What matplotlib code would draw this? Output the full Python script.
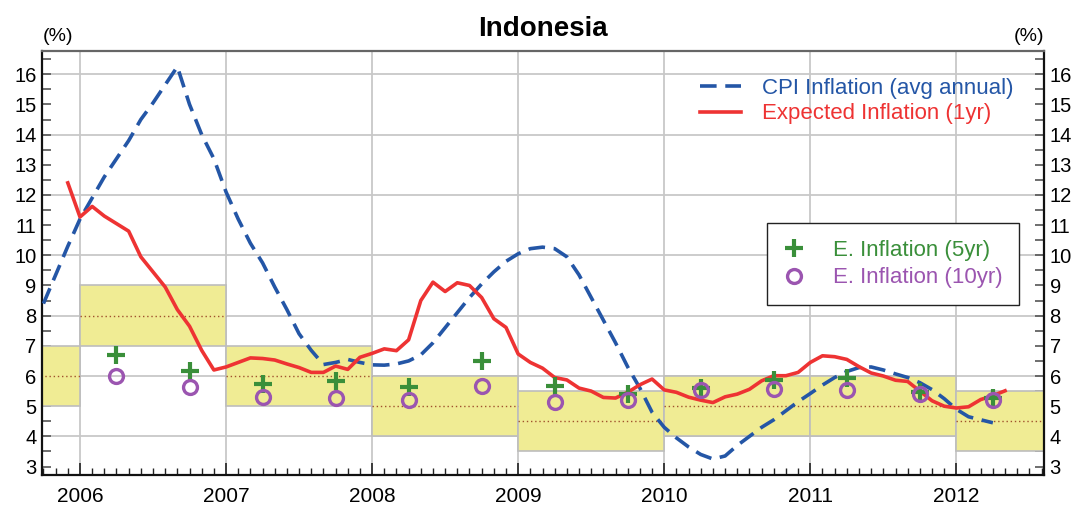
import matplotlib
matplotlib.use('Agg')
import matplotlib.pyplot as plt
import numpy as np
from matplotlib.ticker import FixedLocator, MultipleLocator

# CPI inflation (avg annual), monthly from Oct 2005
cpi_start = 2005.75
cpi_vals = [8.4, 9.35, 10.3,
            11.2, 11.9, 12.6, 13.2, 13.8, 14.5, 15.05, 15.65, 16.25, 15.0, 14.0, 13.2,
            12.1, 11.2, 10.4, 9.75, 8.95, 8.2, 7.4, 6.85, 6.38, 6.45, 6.55, 6.45,
            6.37, 6.36, 6.40, 6.5, 6.7, 7.1, 7.6, 8.1, 8.6, 9.05, 9.45, 9.8,
            10.05, 10.22, 10.27, 10.22, 9.95, 9.35, 8.6, 7.85, 7.1, 6.3, 5.6, 4.8,
            4.3, 3.95, 3.65, 3.4, 3.25, 3.35, 3.7, 4.0, 4.3, 4.55, 4.85, 5.15,
            5.42, 5.7, 5.95, 6.15, 6.28, 6.3, 6.2, 6.07, 5.95, 5.78, 5.55, 5.25,
            4.9, 4.65, 4.55, 4.45]

# Expected inflation (1yr), monthly from Dec 2005
exp_start = 2005 + 11 / 12
exp_vals = [12.4,
            11.27, 11.62, 11.3, 11.05, 10.8, 9.95, 9.45, 8.95, 8.2, 7.65, 6.85, 6.2,
            6.3, 6.45, 6.6, 6.58, 6.53, 6.4, 6.28, 6.12, 6.12, 6.33, 6.22, 6.62,
            6.75, 6.9, 6.84, 7.2, 8.5, 9.11, 8.8, 9.09, 9.0, 8.6, 7.9, 7.61,
            6.73, 6.45, 6.26, 5.95, 5.87, 5.6, 5.5, 5.29, 5.27, 5.46, 5.71, 5.9,
            5.54, 5.46, 5.3, 5.2, 5.12, 5.31, 5.4, 5.56, 5.84, 6.01, 6.01, 6.12,
            6.45, 6.67, 6.64, 6.55, 6.31, 6.1, 6.0, 5.86, 5.82, 5.5, 5.18, 5.0,
            4.94, 4.98, 5.22, 5.35, 5.51]

# semiannual survey points
survey_x = [2006.25, 2006.75, 2007.25, 2007.75, 2008.25, 2008.75, 2009.25,
            2009.75, 2010.25, 2010.75, 2011.25, 2011.75, 2012.25]
exp_5yr = [6.7, 6.18, 5.74, 5.83, 5.63, 6.49, 5.66, 5.41, 5.6, 5.88, 5.93, 5.47, 5.27]
exp_10yr = [6.0, 5.65, 5.3, 5.27, 5.22, 5.68, 5.15, 5.21, 5.55, 5.57, 5.55, 5.39, 5.19]

# inflation target bands (mid +/- 1)
target_years = [2005, 2006, 2007, 2008, 2009, 2010, 2011, 2012]
target_mid = [6, 8, 6, 5, 4.5, 5, 5, 4.5]

blue = '#2456A6'
red = '#EE3333'
green = '#3A8F3A'
purple = '#9B55B0'

plt.rcParams['font.family'] = ['Liberation Sans', 'DejaVu Sans']

fig = plt.figure(figsize=(10.79, 5.09), dpi=100)
ax = fig.add_axes([42 / 1079, 1 - 475 / 509, 1002 / 1079, 424 / 509])

# target bands
tm = np.array(target_mid)
ax.bar(target_years, 2.0, bottom=tm - 1, width=1.0, align='edge',
       color='#F0EC94', edgecolor='#BDBDBD', linewidth=1.2, zorder=1)
ax.hlines(tm, target_years, np.array(target_years) + 1, colors='#A0522D',
          linestyles=(0, (1, 2)), linewidth=1.0, zorder=1.5)

cpi_x = cpi_start + np.arange(len(cpi_vals)) / 12
exp_x = exp_start + np.arange(len(exp_vals)) / 12

l1, = ax.plot(cpi_x, cpi_vals, color=blue, lw=2.6, ls=(0, (4.6, 2.4)),
              label='CPI Inflation (avg annual)', zorder=3)
l2, = ax.plot(exp_x, exp_vals, color=red, lw=2.6,
              label='Expected Inflation (1yr)', zorder=3)
m1, = ax.plot(survey_x, exp_5yr, ls='none', marker='+', ms=13, mew=3.0,
              color=green, label='E. Inflation (5yr)', zorder=4)
m2, = ax.plot(survey_x, exp_10yr, ls='none', marker='o', ms=10, mew=2.4,
              mfc='none', mec=purple, label='E. Inflation (10yr)', zorder=4)

ax.set_xlim(2005.74, 2012.6)
ax.set_ylim(2.72, 16.77)

ax.set_axisbelow(True)
ax.xaxis.set_major_locator(FixedLocator(range(2006, 2013)))
ax.xaxis.set_minor_locator(MultipleLocator(1 / 12))
ax.yaxis.set_major_locator(MultipleLocator(1))
ax.yaxis.set_minor_locator(MultipleLocator(0.5))
ax.grid(False)
for y in range(4, 17, 2):
    ax.axhline(y, color='#C8C8C8', lw=1.3, zorder=0.5)
for x in range(2006, 2013):
    ax.axvline(x, color='#C8C8C8', lw=1.3, zorder=0.5)

ax.tick_params(axis='x', which='major', direction='in', length=9, width=1.2,
               color='#222222', labelsize=15, pad=9, top=False)
ax.tick_params(axis='x', which='minor', direction='in', length=5, width=1.0,
               color='#222222', top=False)
ax.tick_params(axis='y', which='both', direction='in', length=6.5, width=1.2,
               color='#555555', labelsize=14.5, pad=4, left=True, right=True,
               labelleft=True, labelright=True)

for side in ['left', 'right', 'bottom']:
    ax.spines[side].set_linewidth(1.6)
    ax.spines[side].set_color('#111111')
ax.spines['top'].set_linewidth(1.6)
ax.spines['top'].set_color('#666666')

ax.set_title('Indonesia', fontsize=20, fontweight='bold', pad=11)
ax.text(0.016, 1.015, '(%)', transform=ax.transAxes, fontsize=14,
        ha='center', va='bottom')
ax.text(0.985, 1.015, '(%)', transform=ax.transAxes, fontsize=14,
        ha='center', va='bottom')

leg1 = ax.legend(handles=[l1, l2], loc='upper left',
                 bbox_to_anchor=((700 - 42) / 1002, (475 - 78) / 424),
                 frameon=False, fontsize=16, borderpad=0, borderaxespad=0,
                 handlelength=1.85, handletextpad=0.95, labelspacing=0.2)
for t, c in zip(leg1.get_texts(), [blue, red]):
    t.set_color(c)
ax.add_artist(leg1)

leg2 = ax.legend(handles=[m1, m2], loc='upper left',
                 bbox_to_anchor=((767 - 42) / 1002, (475 - 223) / 424),
                 frameon=True, fancybox=False, fontsize=16, borderpad=0.75,
                 borderaxespad=0, handlelength=0.9, handletextpad=1.3,
                 labelspacing=0.3)
leg2.get_frame().set_edgecolor('#222222')
leg2.get_frame().set_linewidth(1.0)
leg2.get_frame().set_alpha(None)
leg2.get_frame().set_facecolor('white')
for t, c in zip(leg2.get_texts(), [green, purple]):
    t.set_color(c)

fig.savefig('out.png', dpi=100)
